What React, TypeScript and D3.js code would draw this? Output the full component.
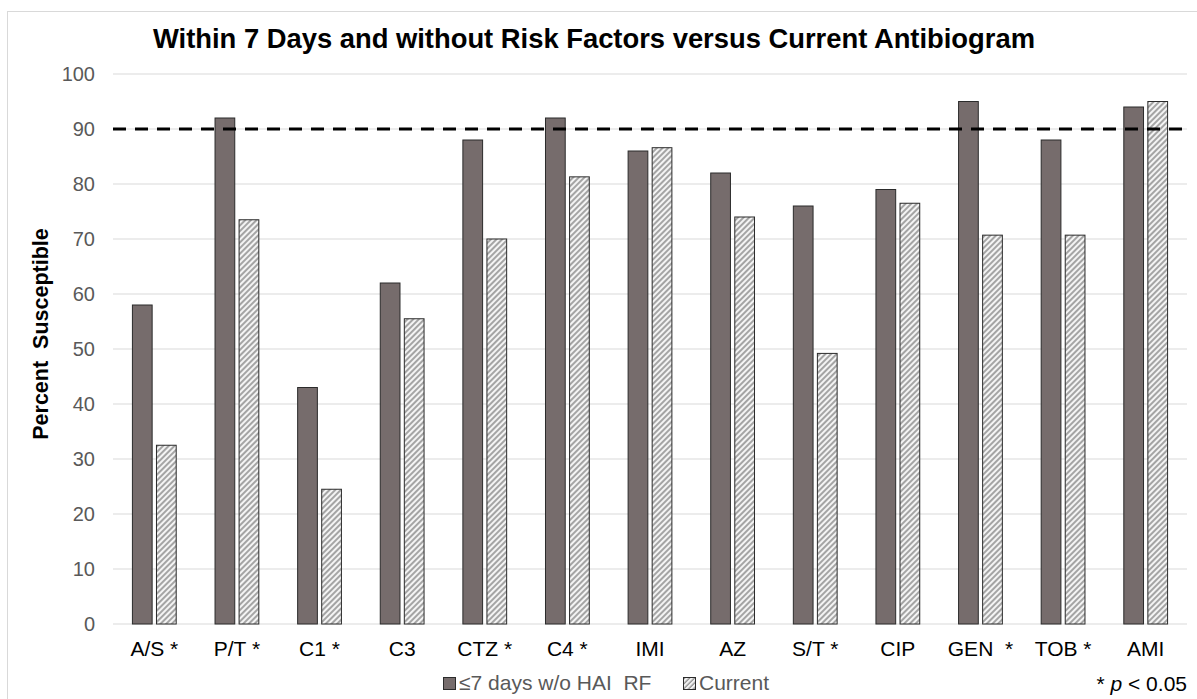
import React from 'react';
import * as d3 from 'd3';

// categories and values
const categories = ['A/S *', 'P/T *', 'C1 *', 'C3', 'CTZ *', 'C4 *', 'IMI', 'AZ', 'S/T *', 'CIP', 'GEN  *', 'TOB *', 'AMI'];
const within7Days = [58, 92, 43, 62, 88, 92, 86, 82, 76, 79, 95, 88, 94];
const currentAntibiogram = [32.5, 73.5, 24.5, 55.5, 70, 81.3, 86.6, 74, 49.2, 76.5, 70.7, 70.7, 95];
const seriesNames = ['≤7 days w/o HAI  RF', 'Current'];
const yTicks = [0, 10, 20, 30, 40, 50, 60, 70, 80, 90, 100];
const threshold = 90;

const width = 1197;
const height = 699;
const margin = { top: 74, right: 10, bottom: 75, left: 113 };
const font = 'Arial, "Liberation Sans", sans-serif';

export default function App() {
  const innerRight = width - margin.right;
  const innerBottom = height - margin.bottom;

  const xScale = d3.scaleBand<string>()
    .domain(categories)
    .range([margin.left, innerRight])
    .paddingInner(0.47)
    .paddingOuter(0.235);

  const subScale = d3.scaleBand<number>()
    .domain([0, 1])
    .range([0, xScale.bandwidth()])
    .paddingInner(0.18);

  const yScale = d3.scaleLinear()
    .domain([0, 100])
    .range([innerBottom, margin.top]);

  const series = [within7Days, currentAntibiogram];
  const fills = ['#766c6c', 'url(#hatch)'];

  return (
    <svg width={width} height={height} style={{ position: 'absolute', left: 0, top: 0, background: '#fff' }}>
      <defs>
        <pattern id="hatch" patternUnits="userSpaceOnUse" width="4" height="4" patternTransform="rotate(45)">
          <rect width="4" height="4" fill="#f4f4f4" />
          <line x1="1" y1="0" x2="1" y2="4" stroke="#7a7a7a" strokeWidth="1.3" />
        </pattern>
        <pattern id="hatchLegend" patternUnits="userSpaceOnUse" width="3.5" height="3.5" patternTransform="rotate(45)">
          <rect width="3.5" height="3.5" fill="#f4f4f4" />
          <line x1="1" y1="0" x2="1" y2="3.5" stroke="#7a7a7a" strokeWidth="1.1" />
        </pattern>
      </defs>

      {/* chart area border */}
      <rect x={7.5} y={11.5} width={width} height={height} fill="none" stroke="#d9d9d9" strokeWidth={1} />

      {/* title */}
      <text x={594} y={48} textAnchor="middle" fontFamily={font} fontWeight="bold" fontSize={28}
        textLength={882} lengthAdjust="spacingAndGlyphs" fill="#000">
        Within 7 Days and without Risk Factors versus Current Antibiogram
      </text>

      {/* gridlines and y ticks */}
      {yTicks.map(t => (
        <g key={t}>
          <line x1={margin.left} x2={innerRight} y1={yScale(t)} y2={yScale(t)} stroke="#d9d9d9" strokeWidth={1} />
          <text x={95} y={yScale(t)} dy="0.35em" textAnchor="end" fontFamily={font} fontSize={20} fill="#595959">{t}</text>
        </g>
      ))}

      {/* y axis title */}
      <text transform="translate(48,334) rotate(-90)" textAnchor="middle"
        fontFamily={font} fontWeight="bold" fontSize={21.5} fill="#000" style={{ whiteSpace: 'pre' }}>
        Percent  Susceptible
      </text>

      {/* bars */}
      {categories.map((c, i) => (
        <g key={c} transform={`translate(${xScale(c)},0)`}>
          {series.map((s, j) => (
            <rect key={j} x={subScale(j)} y={yScale(s[i])} width={subScale.bandwidth()}
              height={innerBottom - yScale(s[i])} fill={fills[j]} stroke="#2b2b2b" strokeWidth={1} />
          ))}
          <text x={xScale.bandwidth() / 2} y={innerBottom + 32} textAnchor="middle" fontFamily={font}
            fontSize={21} fill="#000" style={{ whiteSpace: 'pre' }}>{c}</text>
        </g>
      ))}

      {/* 90% threshold */}
      <line x1={margin.left} x2={innerRight - 2} y1={yScale(threshold)} y2={yScale(threshold)}
        stroke="#000" strokeWidth={3} strokeDasharray="13 9" />

      {/* legend */}
      <g fontFamily={font} fontSize={21} fill="#595959">
        <rect x={443.5} y={677.5} width={12} height={12} fill="#766c6c" stroke="#2b2b2b" />
        <text x={459} y={690} style={{ whiteSpace: 'pre' }}>{seriesNames[0]}</text>
        <rect x={683.5} y={677.5} width={12} height={12} fill="url(#hatchLegend)" stroke="#2b2b2b" />
        <text x={699} y={690}>{seriesNames[1]}</text>
      </g>

      {/* significance note */}
      <text x={1187} y={691} textAnchor="end" fontFamily={font} fontSize={21} fill="#000">
        * <tspan fontStyle="italic">p</tspan> &lt; 0.05
      </text>
    </svg>
  );
}
